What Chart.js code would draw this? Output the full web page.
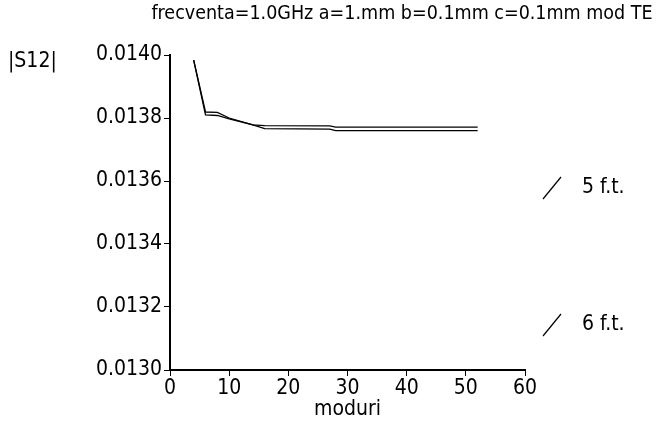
<!DOCTYPE html>
<html>
<head>
<meta charset="utf-8">
<script src="https://cdn.jsdelivr.net/npm/chart.js@4"></script>
<style>
  html, body { margin: 0; padding: 0; background: #fff; }
  canvas { display: block; }
</style>
</head>
<body>
<canvas id="c" width="657" height="434"></canvas>
<script>
const titleText = "frecventa=1.0GHz a=1.mm b=0.1mm c=0.1mm mod TE";
const modes = [4, 6, 8, 10, 14, 16, 27, 28, 52];
const s12_5ft = [0.013984, 0.013819, 0.013818, 0.013800, 0.013778, 0.013776, 0.013775, 0.013771, 0.013771];
const s12_6ft = [0.013984, 0.013810, 0.013808, 0.013797, 0.013778, 0.013766, 0.013765, 0.013760, 0.013760];
const seriesNames = ["5 f.t.", "6 f.t."];

const FONT = "'Liberation Sans Narrow', 'DejaVu Sans Condensed', 'Liberation Sans', sans-serif";

function pts(xs, ys) {
  return xs.map((x, i) => ({ x: x, y: ys[i] }));
}

// title, y-axis caption and the slash legend
const extras = {
  id: "extras",
  afterDraw(chart) {
    const ctx = chart.ctx;
    ctx.save();
    ctx.fillStyle = "#000";
    ctx.textBaseline = "middle";
    ctx.font = "19.5px " + FONT;
    ctx.textAlign = "center";
    ctx.fillText(titleText, 402, 14);
    ctx.textAlign = "left";
    ctx.font = "21px " + FONT;
    ctx.fillText("|S12|", 8, 62);

    const rows = [188, 325];
    seriesNames.forEach((name, i) => {
      const y = rows[i];
      ctx.strokeStyle = "#000";
      ctx.lineWidth = 1.2;
      ctx.beginPath();
      ctx.moveTo(543, y + 11);
      ctx.lineTo(561, y - 11);
      ctx.stroke();
      ctx.fillText(name, 582, y);
    });
    ctx.restore();
  }
};

new Chart(document.getElementById("c"), {
  type: "line",
  data: {
    datasets: [
      { label: seriesNames[0], data: pts(modes, s12_5ft), borderColor: "#000", borderWidth: 1.3, pointRadius: 0, tension: 0 },
      { label: seriesNames[1], data: pts(modes, s12_6ft), borderColor: "#000", borderWidth: 1.3, pointRadius: 0, tension: 0 }
    ]
  },
  options: {
    responsive: false,
    animation: false,
    layout: { padding: { top: 55, right: 132, left: 0, bottom: 12 } },
    plugins: {
      legend: { display: false },
      tooltip: { enabled: false }
    },
    scales: {
      x: {
        type: "linear",
        min: 0, max: 60,
        ticks: { stepSize: 10, color: "#000", font: { size: 21, family: FONT }, padding: 0 },
        grid: { drawOnChartArea: false, color: "#000", tickLength: 6 },
        border: { color: "#000", width: 2 },
        title: { display: true, text: "moduri", color: "#000", font: { size: 21, family: FONT }, padding: 0 },
        afterFit(s) { s.height = 52; }
      },
      y: {
        min: 0.0130, max: 0.0140,
        ticks: {
          stepSize: 0.0002, color: "#000", font: { size: 21, family: FONT }, padding: 2,
          callback: v => Number(v).toFixed(4)
        },
        grid: { drawOnChartArea: false, color: "#000", tickLength: 6 },
        border: { color: "#000", width: 2 },
        afterFit(s) { s.width = 170; }
      }
    }
  },
  plugins: [extras]
});
</script>
</body>
</html>
